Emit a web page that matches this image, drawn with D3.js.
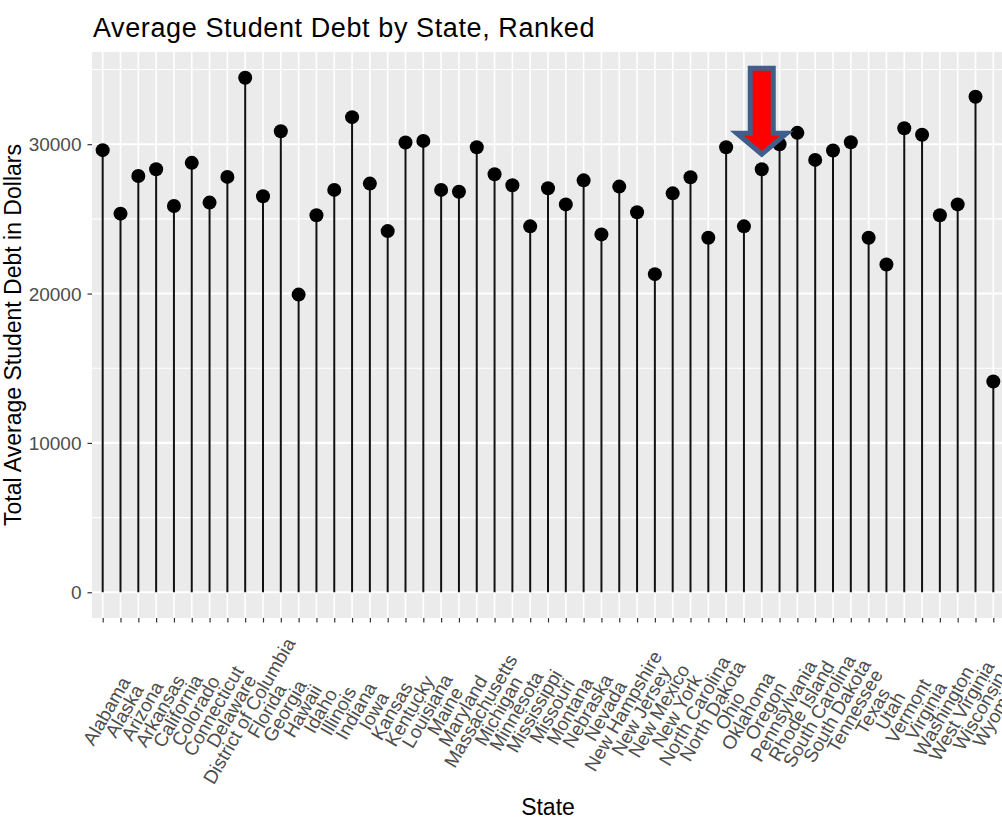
<!DOCTYPE html>
<html>
<head>
<meta charset="utf-8">
<script src="https://cdn.jsdelivr.net/npm/d3@7/dist/d3.min.js"></script>
<style>
  html, body { margin: 0; padding: 0; background: #ffffff; }
  svg { display: block; font-family: "Liberation Sans", Arial, sans-serif; }
</style>
</head>
<body>
<svg id="chart" width="1002" height="820"></svg>
<script>
const states = ["Alabama","Alaska","Arizona","Arkansas","California","Colorado","Connecticut","Delaware","District of Columbia","Florida","Georgia","Hawaii","Idaho","Illinois","Indiana","Iowa","Kansas","Kentucky","Louisiana","Maine","Maryland","Massachusetts","Michigan","Minnesota","Mississippi","Missouri","Montana","Nebraska","Nevada","New Hampshire","New Jersey","New Mexico","New York","North Carolina","North Dakota","Ohio","Oklahoma","Oregon","Pennsylvania","Rhode Island","South Carolina","South Dakota","Tennessee","Texas","Utah","Vermont","Virginia","Washington","West Virginia","Wisconsin","Wyoming"];
const debt = [29600,25350,27870,28320,25860,28750,26090,27810,34450,26510,30870,19930,25240,26940,31810,27360,24180,30110,30220,26940,26820,29800,27990,27250,24500,27050,25970,27580,23960,27160,25440,21300,26710,27790,23740,29800,24500,28320,30000,30760,28950,29580,30130,23740,21950,31070,30630,25240,25970,33180,14110];
const yMajorTicks = [0, 10000, 20000, 30000];
const yMinorTicks = [5000, 15000, 25000, 35000];
const highlighted = "Oregon";
const titleText = "Average Student Debt by State, Ranked";
const xTitle = "State";
const yTitle = "Total Average Student Debt in Dollars";

const svg = d3.select("#chart");
const panel = { left: 92, top: 52, right: 1004, bottom: 618 };

const data = states.map((s, i) => ({ state: s, value: debt[i] }));

const x = d3.scalePoint().domain(states).range([panel.left, panel.right]).padding(0.6);
const maxV = d3.max(debt);
const pad = maxV * 0.05;
const y = d3.scaleLinear().domain([0 - pad, maxV + pad]).range([panel.bottom, panel.top]);

// panel background
svg.append("rect")
  .attr("x", panel.left).attr("y", panel.top)
  .attr("width", panel.right - panel.left).attr("height", panel.bottom - panel.top)
  .attr("fill", "#EBEBEB");

// minor horizontal grid
svg.append("g").selectAll("line").data(yMinorTicks).join("line")
  .attr("x1", panel.left).attr("x2", panel.right)
  .attr("y1", d => y(d)).attr("y2", d => y(d))
  .attr("stroke", "#ffffff").attr("stroke-width", 1.1);

// major horizontal grid
svg.append("g").selectAll("line").data(yMajorTicks).join("line")
  .attr("x1", panel.left).attr("x2", panel.right)
  .attr("y1", d => y(d)).attr("y2", d => y(d))
  .attr("stroke", "#ffffff").attr("stroke-width", 2.1);

// vertical grid
svg.append("g").selectAll("line").data(states).join("line")
  .attr("x1", d => x(d)).attr("x2", d => x(d))
  .attr("y1", panel.top).attr("y2", panel.bottom)
  .attr("stroke", "#ffffff").attr("stroke-width", 1.6);

// lollipop stems
svg.append("g").selectAll("line").data(data).join("line")
  .attr("x1", d => x(d.state)).attr("x2", d => x(d.state))
  .attr("y1", y(0)).attr("y2", d => y(d.value))
  .attr("stroke", "#111111").attr("stroke-width", 2);

// points
svg.append("g").selectAll("circle").data(data).join("circle")
  .attr("cx", d => x(d.state)).attr("cy", d => y(d.value))
  .attr("r", 7).attr("fill", "#000000");

// y axis
const yAxis = svg.append("g")
  .attr("transform", `translate(${panel.left},0)`)
  .call(d3.axisLeft(y).tickValues(yMajorTicks).tickSize(4.5).tickPadding(6).tickFormat(d3.format("d")));
yAxis.select(".domain").remove();
yAxis.selectAll(".tick line").attr("stroke", "#333333").attr("stroke-width", 1.2);
yAxis.selectAll(".tick text")
  .attr("fill", "#4D4D4D").attr("font-size", 19)
  .attr("font-family", "Liberation Sans, Arial, sans-serif")
  .attr("dy", "0.35em");

// x axis
const xAxis = svg.append("g")
  .attr("transform", `translate(0,${panel.bottom})`)
  .call(d3.axisBottom(x).tickSize(4.5).tickFormat(""));
xAxis.select(".domain").remove();
xAxis.selectAll(".tick line").attr("stroke", "#333333").attr("stroke-width", 1.2);

// rotated x labels
svg.append("g").selectAll("text").data(states).join("text")
  .attr("transform", d => `translate(${x(d) + 4},711) rotate(-60)`)
  .attr("text-anchor", "middle")
  .attr("dominant-baseline", "central")
  .attr("font-size", 19)
  .attr("fill", "#4D4D4D")
  .text(d => d);

// titles
svg.append("text")
  .attr("x", 93).attr("y", 36.5)
  .attr("font-size", 27).attr("letter-spacing", 0.6)
  .attr("fill", "#000000")
  .text(titleText);

svg.append("text")
  .attr("x", (panel.left + panel.right) / 2).attr("y", 814.5)
  .attr("text-anchor", "middle")
  .attr("font-size", 23).attr("fill", "#000000")
  .text(xTitle);

svg.append("text")
  .attr("transform", `translate(13,${(panel.top + panel.bottom) / 2}) rotate(-90)`)
  .attr("text-anchor", "middle")
  .attr("dominant-baseline", "central")
  .attr("font-size", 23).attr("fill", "#000000")
  .text(yTitle);

// annotation arrow pointing at highlighted state
const hv = data.find(d => d.state === highlighted);
const ax = x(hv.state);
const tip = y(hv.value) - 15;
const shaftHalf = 11.5, headHalf = 25, headH = 21, totalH = 86;
const arrowPts = [
  [ax - shaftHalf, tip - totalH],
  [ax + shaftHalf, tip - totalH],
  [ax + shaftHalf, tip - headH],
  [ax + headHalf, tip - headH],
  [ax, tip],
  [ax - headHalf, tip - headH],
  [ax - shaftHalf, tip - headH]
];
svg.append("path")
  .attr("d", d3.line()(arrowPts) + "Z")
  .attr("fill", "#FF0000")
  .attr("stroke", "#3F5E8C")
  .attr("stroke-width", 5)
  .attr("stroke-linejoin", "miter");
</script>
</body>
</html>
